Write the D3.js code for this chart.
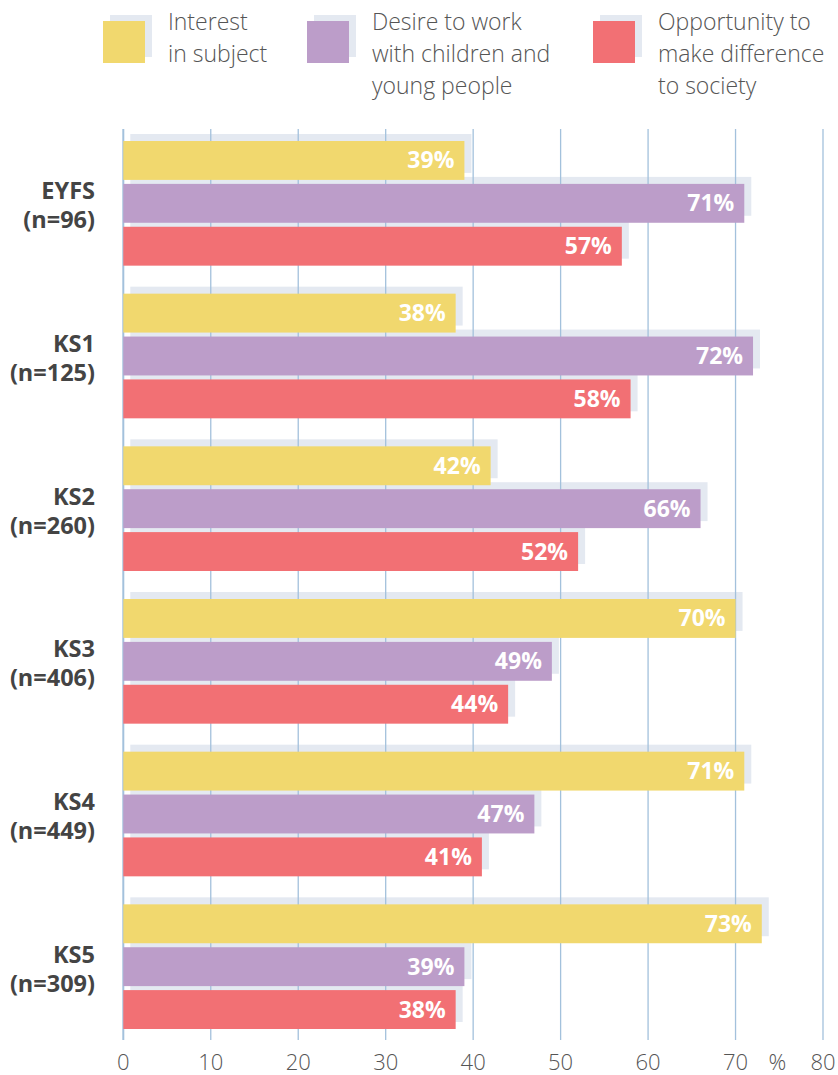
<!DOCTYPE html>
<html>
<head>
<meta charset="utf-8">
<script src="https://cdn.jsdelivr.net/npm/d3@7"></script>
<style>
  body { margin: 0; background: #fff; }
  svg text { font-family: "Open Sans", "Noto Sans", sans-serif; }
</style>
</head>
<body>
<script>
var groups = ["EYFS", "KS1", "KS2", "KS3", "KS4", "KS5"];
var groupN = ["(n=96)", "(n=125)", "(n=260)", "(n=406)", "(n=449)", "(n=309)"];
var seriesNames = [
    ["Interest", "in subject"],
    ["Desire to work", "with children and", "young people"],
    ["Opportunity to", "make difference", "to society"]
];
var interest = [39, 38, 42, 70, 71, 73];
var desire = [71, 72, 66, 49, 47, 39];
var opportunity = [57, 58, 52, 44, 41, 38];
var ticks = [0, 10, 20, 30, 40, 50, 60, 70, 80];

var colors = ["#f1d86e", "#bc9dc9", "#f27074"];
var shadow = "#e4e9f1";
var grid = "#a3c1dc";

var w = 838, h = 1075;

var svg = d3.select("body")
            .append("svg")
            .attr("width", w)
            .attr("height", h);

var xScale = d3.scaleLinear()
                .domain([0, 80])
                .range([123.3, 823]);

var y0 = d3.scaleBand()
            .domain(groups)
            .range([141, 1029])
            .paddingInner(28 / 152.6)
            .paddingOuter(0);

var y1 = d3.scaleBand()
            .domain([0, 1, 2])
            .range([0, y0.bandwidth()])
            .paddingInner(4 / 43);

var rows = [];
groups.forEach(function(g, i) {
    [interest, desire, opportunity].forEach(function(s, j) {
        rows.push({group: g, series: j, value: s[i]});
    });
});

var barY = d => y0(d.group) + y1(d.series);

// shadows
svg.append("g").selectAll("rect")
    .data(rows)
    .enter()
    .append("rect")
    .attr("x", xScale(0) + 7)
    .attr("y", d => barY(d) - 7)
    .attr("width", d => xScale(d.value) - xScale(0))
    .attr("height", y1.bandwidth())
    .attr("fill", shadow);

// gridlines
svg.append("g").selectAll("line")
    .data(ticks)
    .enter()
    .append("line")
    .attr("x1", d => xScale(d))
    .attr("x2", d => xScale(d))
    .attr("y1", 129)
    .attr("y2", 1040)
    .attr("stroke", grid)
    .attr("stroke-width", d => d === 0 ? 2 : 1.3);

// bars
svg.append("g").selectAll("rect")
    .data(rows)
    .enter()
    .append("rect")
    .attr("x", xScale(0))
    .attr("y", barY)
    .attr("width", d => xScale(d.value) - xScale(0))
    .attr("height", y1.bandwidth())
    .attr("fill", d => colors[d.series]);

// value labels
svg.append("g").selectAll("text")
    .data(rows)
    .enter()
    .append("text")
    .attr("x", d => xScale(d.value) - 10)
    .attr("y", d => barY(d) + y1.bandwidth() / 2 + 8)
    .attr("text-anchor", "end")
    .attr("fill", "#fff")
    .attr("font-weight", "bold")
    .attr("font-size", 23)
    .text(d => d.value + "%");

// category labels
var cat = svg.append("g").selectAll("text")
    .data(groups)
    .enter()
    .append("text")
    .attr("text-anchor", "end")
    .attr("fill", "#444")
    .attr("font-weight", "bold")
    .attr("font-size", 23.5);

cat.append("tspan")
    .attr("x", 95)
    .attr("y", d => y0(d) + y0.bandwidth() / 2 - 4)
    .text(d => d);

cat.append("tspan")
    .attr("x", 95)
    .attr("y", d => y0(d) + y0.bandwidth() / 2 + 25)
    .text((d, i) => groupN[i]);

// x axis tick labels
svg.append("g").selectAll("text")
    .data(ticks)
    .enter()
    .append("text")
    .attr("x", d => xScale(d))
    .attr("y", 1070)
    .attr("text-anchor", "middle")
    .attr("fill", "#555")
    .attr("font-weight", 300)
    .attr("font-size", 22)
    .text(d => d);

svg.append("text")
    .attr("x", (xScale(70) + xScale(80)) / 2 - 2)
    .attr("y", 1070)
    .attr("text-anchor", "middle")
    .attr("fill", "#555")
    .attr("font-weight", 300)
    .attr("font-size", 22)
    .text("%");

// legend
var legendX = [103, 307, 593];
var legend = svg.append("g").selectAll("g")
    .data(seriesNames)
    .enter()
    .append("g")
    .attr("transform", (d, i) => "translate(" + legendX[i] + ",0)");

legend.append("rect")
    .attr("x", 7).attr("y", 15)
    .attr("width", 42).attr("height", 42)
    .attr("fill", shadow);

legend.append("rect")
    .attr("x", 0).attr("y", 21)
    .attr("width", 42).attr("height", 42)
    .attr("fill", (d, i) => colors[i]);

legend.append("text")
    .attr("fill", "#555")
    .attr("font-weight", 300)
    .attr("font-size", 23)
    .selectAll("tspan")
    .data(d => d)
    .enter()
    .append("tspan")
    .attr("x", 65)
    .attr("y", (d, i) => 30 + i * 32)
    .text(d => d);
</script>
</body>
</html>
